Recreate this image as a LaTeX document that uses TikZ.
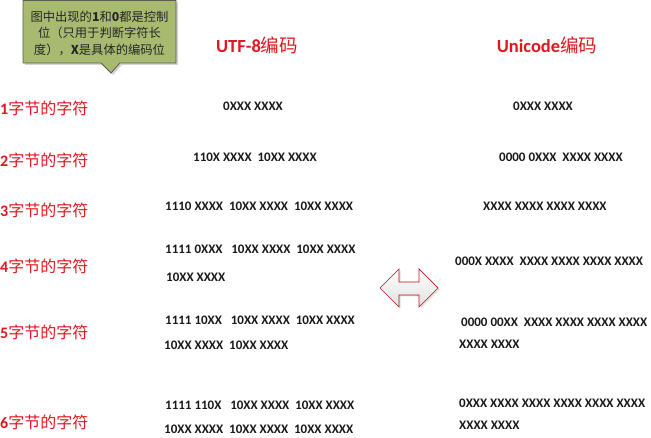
\documentclass[tikz,border=0pt]{standalone}
\usepackage{fontspec}
\setmainfont{Carlito}
\newfontfamily\cjk{Noto Sans CJK SC}
\usetikzlibrary{shadows}
\definecolor{tred}{RGB}{222,24,32}
\definecolor{callfill}{RGB}{168,186,112}
\definecolor{calldraw}{RGB}{90,90,80}
\tikzset{
  code/.style={anchor=west,inner sep=0pt,font=\fontsize{13}{15}\selectfont\bfseries,text=black!90},
  rowlabel/.style={anchor=west,inner sep=0pt,text=tred,font=\fontsize{16}{18}\selectfont},
  title/.style={inner sep=0pt,text=tred,font=\fontsize{18.5}{20}\selectfont\bfseries},
  calltext/.style={align=center,inner sep=0pt,font=\cjk\fontsize{12.3}{16.5}\selectfont,text=black!85}
}
\begin{document}
\begin{tikzpicture}[x=1pt,y=-1pt]
\useasboundingbox (0,0) rectangle (651,438);
% callout
\path[fill=callfill,draw=calldraw,line width=0.8pt,drop shadow={shadow xshift=2pt,shadow yshift=-2pt,opacity=0.35}]
  (23,0.5) -- (176,0.5) -- (176,63) -- (120,63) -- (111,73) -- (101,63) -- (23,63) -- cycle;
\node[calltext] (note) at (99.5,33) {图中出现的\textbf{1}和\textbf{0}都是控制\\位（只用于判断字符长\\度），\textbf{X}是具体的编码位};
% titles
\node[title] (t1) at (257,45) {UTF-8{\cjk\mdseries 编码}};
\node[title] (t2) at (547,45) {Unicode{\cjk\mdseries 编码}};
% row labels
\node[rowlabel] (r1) at (0,108) {\textbf{1}{\cjk 字节的字符}};
\node[rowlabel] (r2) at (0,160) {\textbf{2}{\cjk 字节的字符}};
\node[rowlabel] (r3) at (0,210) {\textbf{3}{\cjk 字节的字符}};
\node[rowlabel] (r4) at (0,266) {\textbf{4}{\cjk 字节的字符}};
\node[rowlabel] (r5) at (0,332) {\textbf{5}{\cjk 字节的字符}};
\node[rowlabel] (r6) at (0,422) {\textbf{6}{\cjk 字节的字符}};
% UTF-8 codes
\node[code] (u1) at (223,106) {0XXX XXXX};
\node[code] (u2) at (193,157) {110X XXXX\ \ 10XX XXXX};
\node[code] (u3) at (165,206) {1110 XXXX\ \ 10XX XXXX\ \ 10XX XXXX};
\node[code] (u4a) at (165,249) {1111 0XXX\ \ \ 10XX XXXX\ \ 10XX XXXX};
\node[code] (u4b) at (166,277) {10XX XXXX};
\node[code] (u5a) at (165,320) {1111 10XX\ \ \ 10XX XXXX\ \ 10XX XXXX};
\node[code] (u5b) at (164,345) {10XX XXXX\ \ 10XX XXXX};
\node[code] (u6a) at (165,405) {1111 110X\ \ \ 10XX XXXX\ \ 10XX XXXX};
\node[code] (u6b) at (164,429) {10XX XXXX\ \ 10XX XXXX\ \ 10XX XXXX};
% Unicode codes
\node[code] (c1) at (513,106) {0XXX XXXX};
\node[code] (c2) at (499,157) {0000 0XXX\ \ XXXX XXXX};
\node[code] (c3) at (483,206) {XXXX XXXX XXXX XXXX};
\node[code] (c4) at (455,261) {000X XXXX\ \ XXXX XXXX XXXX XXXX};
\node[code] (c5a) at (461,322) {0000 00XX\ \ XXXX XXXX XXXX XXXX};
\node[code] (c5b) at (459,344) {XXXX XXXX};
\node[code] (c6a) at (459,403) {0XXX XXXX XXXX XXXX XXXX XXXX};
\node[code] (c6b) at (459,425) {XXXX XXXX};
% double arrow
\path[top color=white,bottom color=black!12,draw=tred!85!black,line width=0.7pt,
  drop shadow={shadow xshift=1.5pt,shadow yshift=-1.5pt,opacity=0.25}]
  (380,288) -- (399,269) -- (399,282) -- (419,282) -- (419,269) -- (438,288)
  -- (419,307) -- (419,295) -- (399,295) -- (399,307) -- cycle;
\end{tikzpicture}
\end{document}
